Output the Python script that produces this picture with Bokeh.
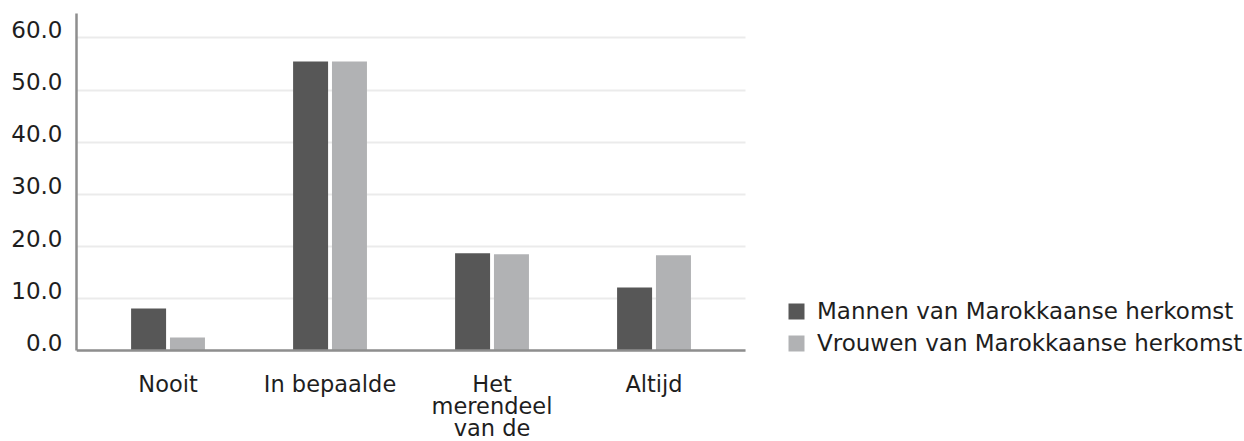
from bokeh.plotting import figure
from bokeh.models import (Range1d, Legend, LegendItem, FixedTicker,
                          NumeralTickFormatter, ColumnDataSource, LinearAxis, Grid)
from bokeh.transform import dodge
from bokeh.embed import file_html
from bokeh.resources import INLINE

# ---- data ----
categories = ["Nooit", "In bepaalde", "Het\nmerendeel\nvan de", "Altijd"]
mannen = [8.1, 55.5, 18.7, 12.1]
vrouwen = [2.5, 55.5, 18.5, 18.3]
series_names = ["Mannen van Marokkaanse herkomst", "Vrouwen van Marokkaanse herkomst"]
y_ticks = [0, 10, 20, 30, 40, 50, 60]

# ---- layout constants ----
FONT = "DejaVu Sans"
TEXT = "#1e1e1e"
DARK = "#575757"
LIGHT = "#b1b2b4"
AXIS = "#8e8e8e"
GRID = "#ebebeb"
Y_MAX = 64.7
Y_MIN = -17.45        # room below the value axis for the category labels
LABEL_SHIFT = 1.6     # value labels sit slightly above their gridline
PAD = 0.565           # half slot + outer padding of the category axis
X_END = 6.645         # room right of the plot area for the legend

x_pos = list(range(len(categories)))
src = ColumnDataSource(data=dict(x=x_pos, m=mannen, v=vrouwen))

p = figure(width=1244, height=441,
           x_range=Range1d(-PAD, X_END),
           y_range=Range1d(Y_MIN, Y_MAX), y_axis_location=None,
           output_backend="svg", toolbar_location=None,
           min_border_left=76, min_border_top=13, min_border_right=0,
           min_border_bottom=0)
p.extra_y_ranges = {"labels": Range1d(Y_MIN - LABEL_SHIFT, Y_MAX - LABEL_SHIFT)}

# hide the default grids (they would span the whole frame)
for g in list(p.xgrid) + list(p.ygrid):
    g.visible = False

r1 = p.vbar(x=dodge("x", -0.12), top="m", width=0.216,
            source=src, fill_color=DARK, line_color=None)
r2 = p.vbar(x=dodge("x", 0.12), top="v", width=0.216,
            source=src, fill_color=LIGHT, line_color=None)

p.outline_line_color = None
x_bounds = (-PAD, len(categories) - 1 + PAD)
ygrid = Grid(dimension=1, ticker=FixedTicker(ticks=y_ticks),
             grid_line_color=GRID, grid_line_width=2,
             cross_bounds=x_bounds, level="underlay")
p.add_layout(ygrid)

yaxis = LinearAxis(y_range_name="labels", ticker=FixedTicker(ticks=y_ticks),
                   formatter=NumeralTickFormatter(format="0.0"),
                   bounds=(-LABEL_SHIFT, Y_MAX - LABEL_SHIFT))
p.add_layout(yaxis, "left")

xaxis = p.xaxis[0]
xaxis.fixed_location = 0
xaxis.bounds = x_bounds
xaxis.ticker = FixedTicker(ticks=x_pos)
xaxis.major_label_overrides = {i: c for i, c in zip(x_pos, categories)}

for ax in (xaxis, yaxis):
    ax.axis_line_color = AXIS
    ax.axis_line_width = 2.5
    ax.major_tick_line_color = None
    ax.minor_tick_line_color = None
    ax.major_label_text_font = FONT
    ax.major_label_text_color = TEXT

yaxis.major_label_text_font_size = "23px"
yaxis.major_label_standoff = 8
xaxis.major_label_text_font_size = "22.5px"
xaxis.major_label_standoff = 14
xaxis.major_label_text_line_height = 0.86

legend = Legend(items=[LegendItem(label=series_names[0], renderers=[r1]),
                       LegendItem(label=series_names[1], renderers=[r2])],
                location=(710, 85), orientation="vertical",
                margin=0, padding=0, spacing=6,
                glyph_width=20, glyph_height=20, label_height=20,
                label_standoff=11,
                label_text_font=FONT, label_text_font_size="23px",
                label_text_color=TEXT,
                border_line_color=None, background_fill_alpha=0)
p.add_layout(legend)

open("out.html", "w").write(file_html(p, INLINE))
